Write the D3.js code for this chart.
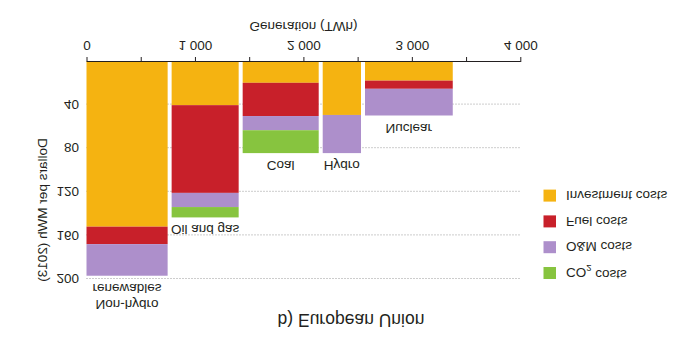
<!DOCTYPE html>
<html><head><meta charset="utf-8">
<script src="https://cdn.jsdelivr.net/npm/d3@7"></script>
<style>
body{margin:0;background:#fff}
text{font-family:"Liberation Sans",Arial,sans-serif;fill:#231f20}
</style>
</head><body>
<svg id="c" width="696" height="350"></svg>
<script>
// ---- data ----
const categories = [["Non-hydro","renewables"],["Oil and gas"],["Coal"],["Hydro"],["Nuclear"]];
const generation = [785, 655, 738, 390, 846];      // TWh
const investment = [152, 40.5, 20, 49.5, 18];      // $/MWh
const fuel       = [16, 80.5, 30.5, 0, 7.5];
const om         = [29, 13, 13, 35, 24.5];
const co2        = [0, 9.5, 21, 0, 0];
const seriesNames  = ["Investment costs","Fuel costs","O&M costs","CO2 costs"];
const seriesColors = ["#F5B311","#C8202A","#AD8FCB","#87C43F"];
const xTicks = [0,500,1000,1500,2000,2500,3000,3500,4000];
const yTicks = [40,80,120,160,200];
const title = "b) European Union";
const xTitle = "Generation (TWh)";
const yTitle = "Dollars per MWh (2013)";

// ---- layout ----
const svg = d3.select("#c");
// the reference picture is vertically mirrored
const root = svg.append("g").attr("transform","translate(0,350) scale(1,-1)");
const FS = 13.5;

const x = d3.scaleLinear().domain([0,4000]).range([86.5,520.3]);
const y = d3.scaleLinear().domain([0,200]).range([289,71]);

// gridlines
root.append("g").selectAll("line").data(yTicks).join("line")
  .attr("x1", x(0)).attr("x2", x(4000))
  .attr("y1", d=>y(d)+0.5).attr("y2", d=>y(d)+0.5)
  .attr("stroke","#9a9a9a").attr("stroke-width",1).attr("stroke-dasharray","1,2");

// stacked variable width bars
const series = [investment, fuel, om, co2];
const cum = d3.cumsum([0].concat(generation));
const gap = 4;
const bars = root.append("g");
categories.forEach((c,i)=>{
  let base = 0;
  series.forEach((s,k)=>{
    const v = s[i];
    if (v > 0) {
      bars.append("rect")
        .attr("x", x(cum[i]))
        .attr("width", x(cum[i]+generation[i]) - x(cum[i]) - gap)
        .attr("y", y(base+v))
        .attr("height", y(base) - y(base+v))
        .attr("fill", seriesColors[k]);
    }
    base += v;
  });
});

// category labels above each bar
const labG = root.append("g");
categories.forEach((lines,i)=>{
  const total = investment[i]+fuel[i]+om[i]+co2[i];
  const cx = (x(cum[i]) + x(cum[i]+generation[i]) - gap)/2;
  const t = labG.append("text").attr("text-anchor","middle").attr("font-size",FS);
  lines.forEach((l,j)=>{
    t.append("tspan").attr("x",cx).attr("y", j*16).text(l);
  });
  const bb = t.node().getBBox();
  const target = y(total) - 5;
  t.attr("transform", `translate(0,${target - (bb.y+bb.height)})`);
});

// x axis
const xAxis = d3.axisBottom(x).tickValues(xTicks).tickSize(5).tickSizeOuter(0).tickPadding(6)
  .tickFormat(d => d%1000===0 ? (d===0 ? "0" : d3.format(",")(d).replace(","," ")) : "");
const ax = root.append("g").attr("transform","translate(0,288)").call(xAxis);
ax.selectAll("text").attr("font-size",FS).attr("font-family",null).attr("fill","#231f20");
ax.selectAll("line,path").attr("stroke","#231f20");

// y tick labels (no axis line)
root.append("g").selectAll("text").data(yTicks).join("text")
  .attr("x",79).attr("y",d=>y(d)).attr("dy","0.35em").attr("text-anchor","end")
  .attr("font-size",FS).text(d=>d);

// axis titles
root.append("text").attr("x", x(2000)).attr("y", 328).attr("text-anchor","middle")
  .attr("font-size",FS).text(xTitle);
root.append("text").attr("transform","translate(46.5,140) rotate(-90)").attr("text-anchor","middle")
  .attr("font-size",FS).text(yTitle);

// title
root.append("text").attr("x", 351).attr("y", 36).attr("text-anchor","middle")
  .attr("font-size",17.5).text(title);

// legend (top to bottom in unflipped orientation: CO2, O&M, Fuel, Investment)
const legOrder = [3,2,1,0];
const lg = root.append("g");
legOrder.forEach((k,j)=>{
  const yy = 71 + j*25.8;
  lg.append("rect").attr("x",543.5).attr("y",yy).attr("width",12.5).attr("height",12)
    .attr("fill",seriesColors[k]);
  const t = lg.append("text").attr("x",566).attr("y",yy+6).attr("dy","0.35em").attr("font-size",FS);
  if (seriesNames[k].startsWith("CO2")) {
    t.append("tspan").text("CO");
    t.append("tspan").attr("font-size",FS*0.7).attr("dy","0.3em").text("2");
    t.append("tspan").attr("dy","-0.3em").text(" costs");
  } else t.text(seriesNames[k]);
});
</script>
</body></html>
